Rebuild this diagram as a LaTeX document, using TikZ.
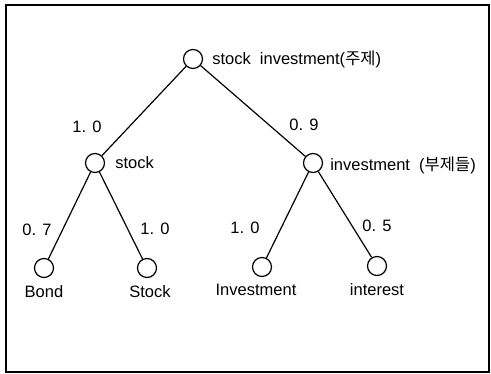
\documentclass[tikz,border=0pt]{standalone}
\usepackage{fontspec}
\setmainfont{Liberation Sans}
\newfontfamily\kor{Noto Sans CJK KR}
\usetikzlibrary{positioning}

\begin{document}
\begin{tikzpicture}[x=1pt,y=-1pt,
    font=\fontsize{16.5}{19}\selectfont,
    term/.style={circle,draw,line width=1.2pt,minimum size=19pt,inner sep=0pt},
    weight/.style={inner sep=0pt},
    word/.style={inner sep=0pt},
    link/.style={line width=1.2pt}
]
    \useasboundingbox (0,0) rectangle (491,374);
    \draw[line width=1.6pt] (6,5) rectangle (489,372);
    % tree
    \node[term] (root) at (193,59) {};
    \node[term] (stock) at (95,163) {};
    \node[term] (invest) at (313,163) {};
    \node[term] (bond) at (44,268) {};
    \node[term] (stockleaf) at (147,268) {};
    \node[term] (investleaf) at (262,267) {};
    \node[term] (interest) at (377,266) {};
    % node texts
    \node[word,right=9pt of root] (rootname) {stock\ \ investment({\kor 주제})};
    \node[word,right=10pt of stock] (stockname) {stock};
    \node[word,right=7pt of invest,yshift=-2pt] (investname) {investment\ \ ({\kor 부제들})};
    \node[word,below=7pt of bond] (bondname) {Bond};
    \node[word,below=7pt of stockleaf,xshift=3pt] (stockleafname) {Stock};
    \node[word,below=7pt of investleaf,xshift=-6pt] (investleafname) {Investment};
    \node[word,below=7pt of interest] (interestname) {interest};
    % weights
    \node[weight] (w1) at (87,127) {1. 0};
    \node[weight] (w2) at (304,125) {0. 9};
    \node[weight] (w3) at (37,230) {0. 7};
    \node[weight] (w4) at (155,229) {1. 0};
    \node[weight] (w5) at (245,228) {1. 0};
    \node[weight] (w6) at (377,226) {0. 5};
    \draw[link] (root)--(stock);
    \draw[link] (root)--(invest);
    \draw[link] (stock)--(bond);
    \draw[link] (stock)--(stockleaf);
    \draw[link] (invest)--(investleaf);
    \draw[link] (invest)--(interest);
\end{tikzpicture}
\end{document}
